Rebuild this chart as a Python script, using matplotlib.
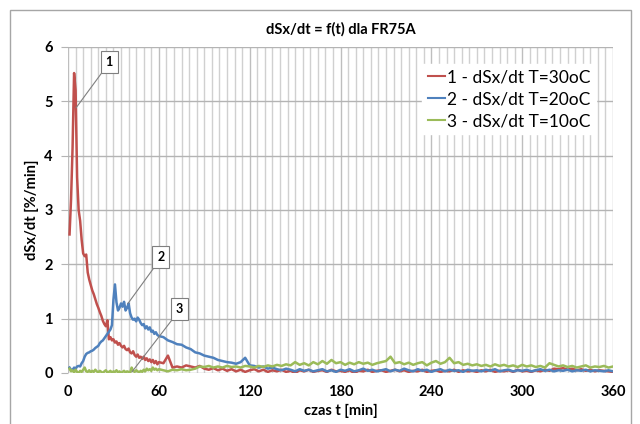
import matplotlib
matplotlib.use('Agg')
import matplotlib.pyplot as plt
from matplotlib.patches import Rectangle

plt.rcParams['font.family'] = ['Lato', 'DejaVu Sans']

# Czas [min]: co 1 min do 60, dalej co 3 min
t = list(range(1, 61)) + list(range(63, 361, 3))

# 1 - T=30oC
red = [2.55, 3.2, 4.15, 5.52, 5.2, 3.6, 3.0, 2.8, 2.45, 2.2,
       2.15, 2.18, 1.85, 1.72, 1.62, 1.52, 1.45, 1.36, 1.27, 1.2,
       1.12, 1.05, 0.96, 0.9, 0.86, 0.97, 0.62, 0.66, 0.6, 0.62,
       0.56, 0.58, 0.52, 0.55, 0.5, 0.47, 0.5, 0.44, 0.42, 0.45,
       0.38, 0.36, 0.4, 0.33, 0.3, 0.34, 0.28, 0.3, 0.26, 0.3,
       0.24, 0.27, 0.22, 0.25, 0.2, 0.24, 0.18, 0.22, 0.16, 0.2,
       0.18, 0.32, 0.1, 0.12, 0.1, 0.14, 0.12, 0.1, 0.13, 0.08,
       0.06, 0.09, 0.05, 0.08, 0.04, 0.07, 0.03, 0.06, 0.02, 0.05,
       0.07, 0.03, 0.06, 0.02, 0.05, 0.03, 0.06, 0.02, 0.04, 0.0,
       0.05, 0.03, 0.06, 0.02, 0.04, 0.05, 0.02, 0.06, 0.03, 0.04,
       0.02, 0.05, 0.0, 0.04, 0.03, 0.06, 0.02, 0.04, 0.05, 0.02,
       0.04, 0.06, 0.03, 0.05, 0.02, 0.04, 0.03, 0.06, 0.02, 0.04,
       0.05, 0.02, 0.04, 0.03, 0.06, 0.02, 0.05, 0.03, 0.04, 0.02,
       0.05, 0.03, 0.06, 0.02, 0.04, 0.03, 0.05, 0.02, 0.06, 0.03,
       0.04, 0.02, 0.05, 0.03, 0.06, 0.04, 0.08, 0.07, 0.09, 0.06,
       0.08, 0.05, 0.07, 0.04, 0.06, 0.03, 0.05, 0.04, 0.03, 0.02]

# 2 - T=20oC
blue = [0.1, 0.06, 0.05, 0.1, 0.08, 0.12, 0.13, 0.12, 0.18, 0.22,
        0.3, 0.35, 0.37, 0.38, 0.4, 0.41, 0.43, 0.46, 0.48, 0.5,
        0.55, 0.58, 0.6, 0.64, 0.68, 0.72, 0.76, 0.8, 0.88, 1.35,
        1.63, 1.3, 1.15, 1.2, 1.28, 1.22, 1.31, 1.15, 1.2, 1.28,
        1.1, 1.02, 0.98, 1.0, 0.95, 1.02, 0.98, 0.92, 0.88, 0.9,
        0.82, 0.86, 0.8, 0.84, 0.76, 0.78, 0.72, 0.75, 0.7, 0.68,
        0.66, 0.6, 0.57, 0.53, 0.52, 0.47, 0.44, 0.38, 0.36, 0.32,
        0.3, 0.28, 0.24, 0.22, 0.2, 0.19, 0.17, 0.2, 0.28, 0.14,
        0.13, 0.1, 0.12, 0.08, 0.1, 0.07, 0.05, 0.08, 0.06, 0.03,
        0.07, 0.04, 0.06, 0.03, 0.05, 0.07, 0.03, 0.05, 0.02, 0.06,
        0.04, 0.07, 0.03, 0.05, 0.08, 0.04, 0.06, 0.03, 0.05, 0.07,
        0.03, 0.06, 0.04, 0.08, 0.05, 0.03, 0.07, 0.04, 0.06, 0.02,
        0.05, 0.07, 0.03, 0.06, 0.04, 0.05, 0.02, 0.06, 0.04, 0.05,
        0.03, 0.06, 0.04, 0.07, 0.03, 0.05, 0.06, 0.03, 0.05, 0.04,
        0.06, 0.03, 0.05, 0.07, 0.04, 0.06, 0.03, 0.05, 0.04, 0.06,
        0.03, 0.05, 0.04, 0.06, 0.03, 0.05, 0.04, 0.03, 0.05, 0.03]

# 3 - T=10oC
green = [0.08, 0.03, 0.05, 0.01, 0.06, 0.02, 0.0, 0.04, 0.02, 0.06,
         0.1, 0.03, 0.02, 0.05, 0.01, 0.04, 0.02, 0.06, 0.03, 0.01,
         0.04, 0.02, 0.0, 0.03, 0.05, 0.01, 0.02, 0.04, 0.0, 0.03,
         0.02, 0.05, 0.01, 0.03, 0.0, 0.02, 0.04, 0.01, 0.03, 0.02,
         0.0, 0.1, 0.04, 0.02, 0.05, 0.03, 0.01, 0.04, 0.02, 0.06,
         0.03, 0.08, 0.05, 0.07, 0.04, 0.1, 0.06, 0.08, 0.05, 0.07,
         0.05, 0.03, 0.06, 0.05, 0.07, 0.05, 0.06, 0.08, 0.12, 0.11,
         0.13, 0.1, 0.12, 0.1, 0.13, 0.11, 0.12, 0.1, 0.13, 0.12,
         0.1, 0.13, 0.11, 0.14, 0.12, 0.15, 0.13, 0.16, 0.14, 0.2,
         0.15, 0.18, 0.14, 0.2, 0.16, 0.22, 0.17, 0.24, 0.18, 0.2,
         0.15, 0.19, 0.16, 0.2, 0.17, 0.19, 0.15, 0.18, 0.2, 0.22,
         0.3, 0.18, 0.2, 0.16, 0.19, 0.15, 0.18, 0.2, 0.14, 0.19,
         0.22, 0.17, 0.2, 0.28, 0.18, 0.2, 0.15, 0.17, 0.14, 0.16,
         0.13, 0.15, 0.12, 0.16, 0.13, 0.15, 0.12, 0.14, 0.11, 0.15,
         0.12, 0.14, 0.11, 0.13, 0.1, 0.18, 0.15, 0.12, 0.14, 0.11,
         0.13, 0.1, 0.12, 0.14, 0.1, 0.12, 0.11, 0.13, 0.1, 0.12]

labels = ['1 - dSx/dt T=30oC', '2 - dSx/dt T=20oC', '3 - dSx/dt T=10oC']
colors = ['#C0504D', '#4F81BD', '#9BBB59']

fig = plt.figure(figsize=(6.4, 4.24), dpi=100)
ax = fig.add_axes([0.1063, 0.1203, 0.8516, 0.7689])

# ramka wykresu
fig.patches.append(Rectangle((10 / 640, -0.05), 621 / 640, 1 - 10 / 424 + 0.05,
                             transform=fig.transFigure, fill=False,
                             edgecolor='#A6A6A6', linewidth=1))

# siatka
for x in range(0, 361, 5):
    ax.axvline(x, color='#D0D0D0' if x % 60 else '#BEBEBE', linewidth=1, zorder=0)
for y in range(0, 7):
    ax.axhline(y, color='#B4B4B4', linewidth=1, zorder=0)

for ys, c, lab in zip([red, blue, green], colors, labels):
    ax.plot(t, ys, color=c, linewidth=1.8, label=lab, zorder=3)

ax.set_xlim(0, 360)
ax.set_ylim(0, 6)
ax.set_xticks(range(0, 361, 60))
ax.set_yticks(range(0, 7))
for s in ax.spines.values():
    s.set_visible(False)
ax.tick_params(axis='y', length=5, color='#B4B4B4', pad=6, labelsize=10.5)
ax.tick_params(axis='x', length=0, pad=9, labelsize=10.5)
for lbl in ax.get_xticklabels() + ax.get_yticklabels():
    lbl.set_fontweight('bold')

ax.set_xlabel('czas t [min]', fontsize=10.5, fontweight='bold', labelpad=3)
ax.set_ylabel('dSx/dt [%/min]', fontsize=10.5, fontweight='bold', labelpad=4)
ax.set_title('dSx/dt = f(t) dla FR75A', fontsize=10.5, fontweight='bold', pad=10)

leg = ax.legend(loc='upper right', bbox_to_anchor=(0.985, 0.975), fontsize=12.5,
                frameon=True, fancybox=False, handlelength=1.0, handletextpad=0.15,
                labelspacing=0.35, borderpad=0.3)
leg.get_frame().set_edgecolor('white')
leg.get_frame().set_facecolor('white')
leg.get_frame().set_alpha(1)
for line in leg.get_lines():
    line.set_linewidth(1.5)

# etykiety serii
callouts = [('1', (5.3, 4.88), (27.2, 5.73)),
            ('2', (39.6, 1.28), (61.3, 2.13)),
            ('3', (42.2, 0.02), (73.6, 1.18))]
for txt, xy, xyt in callouts:
    ax.annotate(txt, xy=xy, xytext=xyt, ha='center', va='center',
                fontsize=9, fontweight='bold', zorder=5,
                bbox=dict(boxstyle='square,pad=0.4', facecolor='white',
                          edgecolor='#7F7F7F', linewidth=0.8),
                arrowprops=dict(arrowstyle='-', color='#7F7F7F', linewidth=0.8,
                                relpos=(0, 0), shrinkA=0, shrinkB=0))

plt.savefig('out.png', dpi=100)
